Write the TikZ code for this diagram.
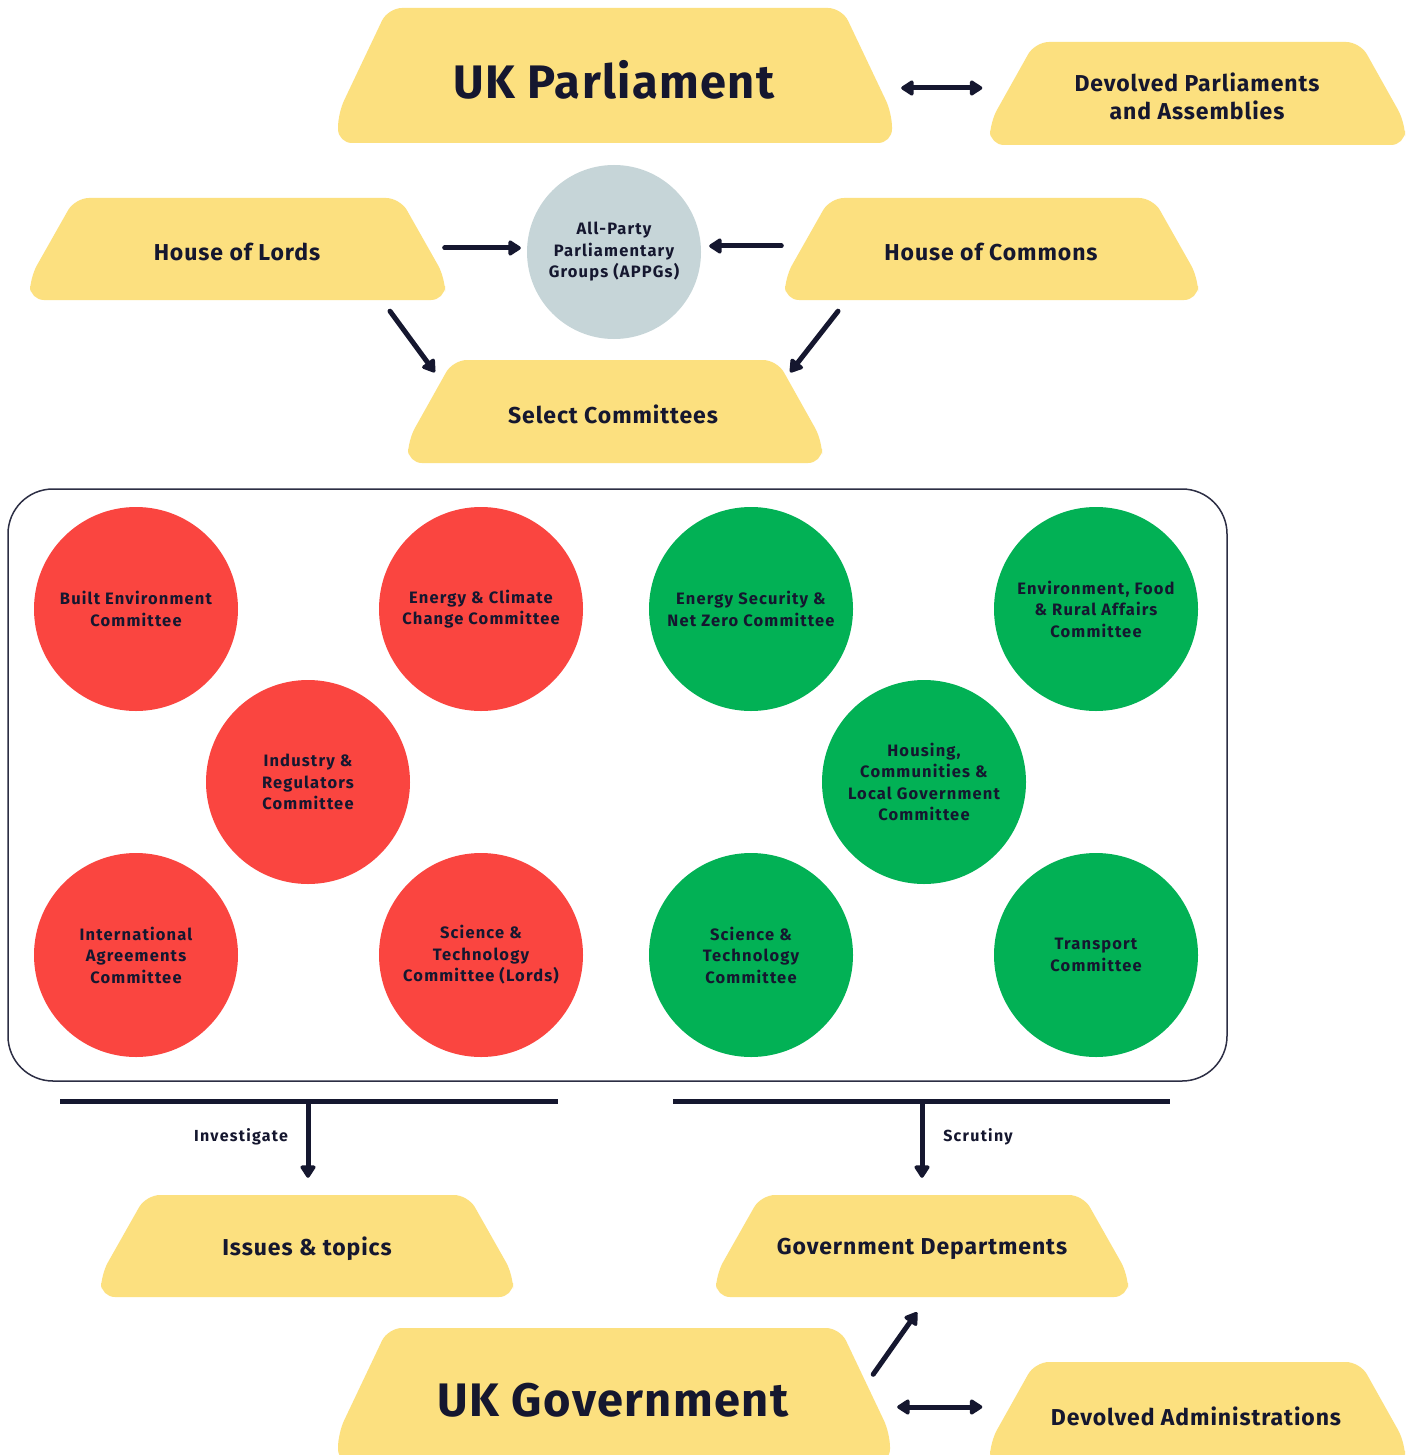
\documentclass[tikz,border=0pt]{standalone}
\usepackage{fontspec}
\setmainfont{Fira Sans}
\usetikzlibrary{arrows.meta,calc}
\definecolor{hexyellow}{HTML}{FCE07F}
\definecolor{cred}{HTML}{FA4540}
\definecolor{cgreen}{HTML}{02B155}
\definecolor{appgcol}{HTML}{C6D5D8}
\definecolor{navy}{HTML}{15172F}
\newcommand{\hexbox}[5]{% cx cy w h inset
  \fill[hexyellow, rounded corners=14pt]
    ({#1-#3/2+#5},{#2-#4/2}) -- ({#1+#3/2-#5},{#2-#4/2}) --
    ({#1+#3/2},{#2+#4/2-0.22*#4}) -- ({#1+#3/2},{#2+#4/2}) --
    ({#1-#3/2},{#2+#4/2}) -- ({#1-#3/2},{#2+#4/2-0.22*#4}) -- cycle;}
\tikzset{
  hexlabel/.style={inner sep=0pt, align=center, text=navy,
    font=\fontsize{23}{28}\selectfont\bfseries\addfontfeatures{LetterSpace=4}},
  biglabel/.style={hexlabel, font=\fontsize{47}{52}\selectfont\bfseries\addfontfeatures{LetterSpace=3}},
  comm/.style={circle, minimum size=204pt, inner sep=0pt, align=center, text=navy,
    font=\fontsize{16.5}{21.5}\selectfont\bfseries\addfontfeatures{LetterSpace=7}},
  redc/.style={comm, fill=cred},
  greenc/.style={comm, fill=cgreen},
  arr/.style={draw=navy, line width=5pt, line cap=round,
    -{Triangle[width=17pt,length=14pt,round]}},
  darr/.style={draw=navy, line width=5pt,
    {Triangle[width=17pt,length=14pt,round]}-{Triangle[width=17pt,length=14pt,round]}},
  bar/.style={draw=navy, line width=5pt},
  small/.style={text=navy, font=\fontsize{16}{18}\selectfont\bfseries\addfontfeatures{LetterSpace=8}}
}
\begin{document}
\begin{tikzpicture}[x=1pt,y=-1pt]
\useasboundingbox (0,0) rectangle (1408,1455);
\fill[white] (0,0) rectangle (1408,1455);

% yellow shapes
\hexbox{615}{75.5}{554}{135}{50}
\hexbox{1197.5}{93.5}{415}{103}{45}
\hexbox{237.5}{249}{415}{102}{45}
\hexbox{991.5}{249}{413}{102}{45}
\hexbox{615}{411.5}{414}{103}{45}
\hexbox{307}{1246}{412}{102}{45}
\hexbox{922}{1246}{412}{102}{45}
\hexbox{614}{1395.5}{552}{135}{50}
\hexbox{1197.5}{1413.5}{415}{103}{45}

% labels of the yellow shapes
\node[biglabel, minimum width=554pt, minimum height=135pt] (parl) at (614,80) {UK Parliament};
\node[hexlabel, minimum width=415pt, minimum height=103pt] (devp) at (1197,96) {Devolved Parliaments\\and Assemblies};
\node[hexlabel, minimum width=415pt, minimum height=102pt] (lords) at (237,252) {House of Lords};
\node[hexlabel, minimum width=413pt, minimum height=102pt] (commons) at (991,252) {House of Commons};
\node[hexlabel, minimum width=414pt, minimum height=103pt] (select) at (613,414) {Select Committees};
\node[hexlabel, minimum width=412pt, minimum height=102pt] (issues) at (307,1249) {Issues \& topics};
\node[hexlabel, minimum width=412pt, minimum height=102pt] (govdept) at (922,1249) {Government Departments};
\node[biglabel, minimum width=552pt, minimum height=135pt] (ukgov) at (613,1400) {UK Government};
\node[hexlabel, minimum width=415pt, minimum height=103pt] (devadm) at (1196,1416) {Devolved Administrations};

% APPG
\node[comm, fill=appgcol, minimum size=174pt] (appg) at (614,252) {All-Party\\Parliamentary\\Groups (APPGs)};

% panel
\node[draw=navy!90, line width=1.5pt, rounded corners=45pt, minimum width=1219pt,
  minimum height=592pt, inner sep=0pt] (panel) at (617.5,785) {};

% committees
\node[redc] (be) at (136,609) {Built Environment\\Committee};
\node[redc] (ecc) at (481,609) {Energy \& Climate\\Change Committee};
\node[redc] (ir) at (308,782) {Industry \&\\Regulators\\Committee};
\node[redc] (ia) at (136,955) {International\\Agreements\\Committee};
\node[redc] (stl) at (481,955) {Science \&\\Technology\\Committee (Lords)};
\node[greenc] (esnz) at (751,609) {Energy Security \&\\Net Zero Committee};
\node[greenc] (efra) at (1096,609) {Environment, Food\\\& Rural Affairs\\Committee};
\node[greenc] (hclg) at (924,782) {Housing,\\Communities \&\\Local Government\\Committee};
\node[greenc] (st) at (751,955) {Science \&\\Technology\\Committee};
\node[greenc] (tr) at (1096,955) {Transport\\Committee};

% connectors top
\draw[darr] ($(parl.east)+(10,8)$) -- ($(devp.west)+(-7,-8)$);
\draw[arr] ($(lords.east)+(0,-4)$) -- ($(appg.west)+(-6,-4)$);
\draw[arr] ($(commons.west)+(-3,-6)$) -- ($(appg.east)+(8,-6)$);
\draw[arr] ($(lords.south)+(153,8)$) -- ($(select.north west)+(29,10)$);
\draw[arr] ($(commons.south)+(-153,8)$) -- ($(select.north east)+(-30,10)$);

% bars
\coordinate (lb1) at (60,1101);
\coordinate (lb2) at (558,1101);
\coordinate (rb1) at (673,1101);
\coordinate (rb2) at (1170,1101);
\coordinate (lbm) at (308,1101);
\coordinate (rbm) at (922,1101);
\draw[bar] (lb1) -- (lb2);
\draw[bar] (rb1) -- (rb2);
\draw[arr, line cap=butt] (lbm) -- ($(issues.north)+(1,-20)$);
\draw[arr, line cap=butt] (rbm) -- ($(govdept.north)+(0,-20)$);
\node[small] (inv) at (241,1137) {Investigate};
\node[small] (scr) at (978,1137) {Scrutiny};

% connectors bottom
\draw[arr] ($(ukgov.north east)+(-16,42)$) -- ($(govdept.south)+(-5,12)$);
\draw[darr] ($(ukgov.east)+(8,7)$) -- ($(devadm.west)+(-6,-9)$);
\end{tikzpicture}
\end{document}
